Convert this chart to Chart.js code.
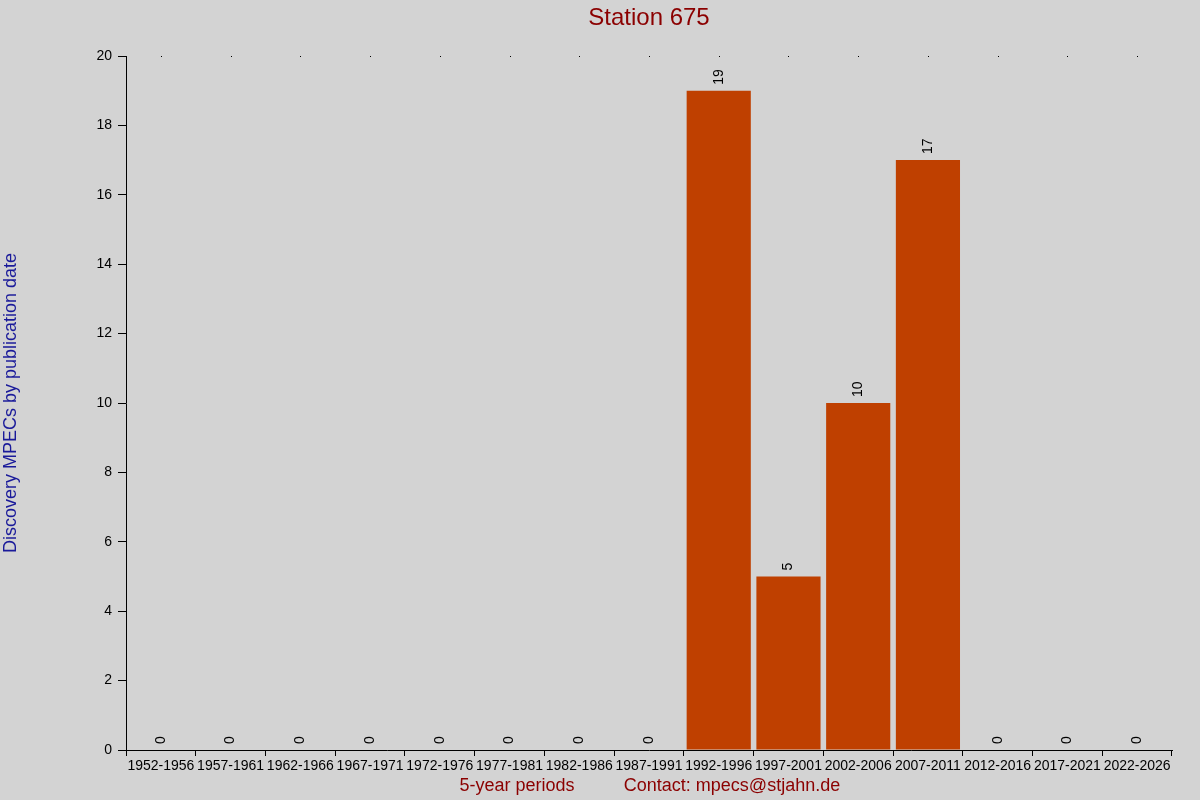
<!DOCTYPE html>
<html><head><meta charset="utf-8">
<script src="https://cdn.jsdelivr.net/npm/chart.js@4"></script>
<style>html,body{margin:0;padding:0;background:#d3d3d3;}#c{display:block;}</style>
</head><body>
<div style="width:1200px;height:800px"><canvas id="c"></canvas></div>
<script>
const categories = ["1952-1956","1957-1961","1962-1966","1967-1971","1972-1976","1977-1981","1982-1986","1987-1991","1992-1996","1997-2001","2002-2006","2007-2011","2012-2016","2017-2021","2022-2026"];
const values = [0,0,0,0,0,0,0,0,19,5,10,17,0,0,0];
const yTicks = [0,2,4,6,8,10,12,14,16,18,20];
const FONT = "'Liberation Sans', Arial, sans-serif";

const extras = {
  id: 'extras',
  afterDatasetsDraw(chart) {
    const ctx = chart.ctx;
    const meta = chart.getDatasetMeta(0);
    ctx.save();
    ctx.fillStyle = '#000';
    ctx.font = '14px ' + FONT;
    ctx.textAlign = 'left';
    ctx.textBaseline = 'middle';
    meta.data.forEach((bar, i) => {
      ctx.save();
      ctx.translate(bar.x, bar.y - 6);
      ctx.rotate(-Math.PI / 2);
      ctx.fillText(String(values[i]), 0, 0);
      ctx.restore();
    });
    // top dots
    const x = chart.scales.x, top = chart.chartArea.top;
    ctx.fillStyle = '#000';
    categories.forEach((c, i) => { ctx.fillRect(Math.round(x.getPixelForValue(i)), top, 1, 1); });
    // title & footer
    ctx.fillStyle = '#8b0000';
    ctx.textAlign = 'center';
    ctx.font = '24px ' + FONT;
    ctx.fillText('Station 675', 649, 18);
    ctx.font = '18px ' + FONT;
    ctx.fillText('5-year periods', 517, 786);
    ctx.fillText('Contact: mpecs@stjahn.de', 732, 786);
    ctx.restore();
  }
};

new Chart(document.getElementById('c'), {
  type: 'bar',
  data: { labels: categories, datasets: [{ data: values, backgroundColor: '#bf4000', barPercentage: 0.92, categoryPercentage: 1 }] },
  options: {
    responsive: true, maintainAspectRatio: false, animation: false,
    layout: { padding: { top: 56, right: 28, left: 0, bottom: 0 } },
    plugins: { legend: { display: false }, tooltip: { enabled: false } },
    scales: {
      x: {
        grid: { display: true, drawOnChartArea: false, tickLength: 6, color: '#000' },
        border: { color: '#000' },
        ticks: { color: '#000', font: { family: FONT, size: 14 }, maxRotation: 0, autoSkip: false, padding: 2 },
        afterFit(s) { s.height = 50; }
      },
      y: {
        min: 0, max: 20,
        afterBuildTicks(s) { s.ticks = yTicks.map(v => ({ value: v })); },
        grid: { display: true, drawOnChartArea: false, tickLength: 8, color: '#000' },
        border: { color: '#000' },
        ticks: { color: '#000', font: { family: FONT, size: 14 }, padding: 6 },
        title: { display: true, text: 'Discovery MPECs by publication date', color: '#1a1a9a', font: { family: FONT, size: 18 }, padding: 0 },
        afterFit(s) { s.width = 126; }
      }
    }
  },
  plugins: [extras]
});
</script>
</body></html>
